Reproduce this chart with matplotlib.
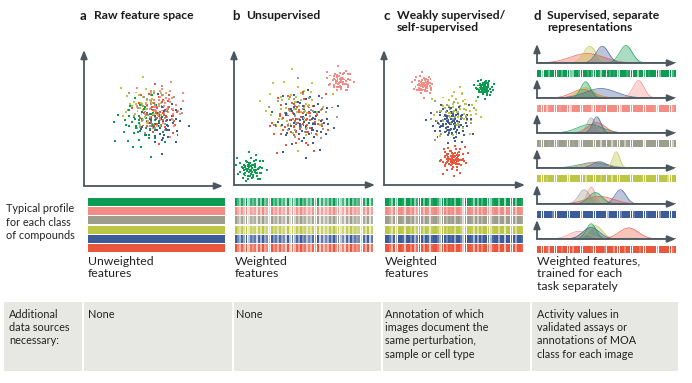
import numpy as np
import matplotlib
matplotlib.use("Agg")
from matplotlib import pyplot as plt
from matplotlib.patches import Rectangle

plt.rcParams['font.family'] = ['Lato', 'DejaVu Sans']

# ---- data ----
class_names = ["green", "pink", "gray", "yellow", "blue", "red"]
class_colors = ["#0b9c52", "#f28d86", "#9d9d8d", "#bdc545", "#3c5b99", "#e8563b"]

# scatter clusters: (class index, centre x, centre y, spread, n points), axes fraction
clusters_a = [(0, 0.42, 0.46, 0.09, 55), (1, 0.56, 0.58, 0.08, 55), (2, 0.50, 0.55, 0.08, 45),
              (3, 0.44, 0.58, 0.08, 50), (4, 0.55, 0.46, 0.08, 60), (5, 0.53, 0.53, 0.08, 50)]
clusters_b = [(0, 0.12, 0.12, 0.045, 70), (1, 0.75, 0.77, 0.040, 60), (2, 0.48, 0.52, 0.10, 40),
              (3, 0.44, 0.56, 0.11, 55), (4, 0.50, 0.48, 0.10, 80), (5, 0.46, 0.47, 0.10, 70)]
clusters_c = [(1, 0.28, 0.74, 0.035, 55), (0, 0.71, 0.72, 0.030, 60), (5, 0.49, 0.19, 0.045, 75),
              (2, 0.47, 0.50, 0.07, 30), (3, 0.52, 0.55, 0.08, 60), (4, 0.48, 0.46, 0.065, 90)]

# feature weights for the striped bars (digit 1-9 -> colour strength)
weights_b = "963849275718394629573846192738495726384917263849572618394756283917"
weights_c = "997394998299693799498289973996989499729998394969973899499299794998"
weights_d = ["9939959998969994399799979699839997989499978999399698999949999969",
             "8999489999899993999979999499989999999939999899999999998399999979",
             "9899989997999899899399999989939999389999489999999399999999999949",
             "9999799989999969999999499999979999499999999999998999999999995999",
             "9999999699999989999949999999999939999969999979999989999959999999",
             "9999839999979999599989999899999799959999699999979999999499999979"]

# density bumps in panel d: one list per row of (class, centre, sd, height)
bumps_d = [
    [(5, 0.36, 0.12, 0.50), (3, 0.38, 0.045, 0.88), (4, 0.47, 0.045, 0.88), (0, 0.64, 0.045, 0.92)],
    [(5, 0.33, 0.08, 0.45), (3, 0.35, 0.06, 0.55), (0, 0.35, 0.035, 0.85), (4, 0.46, 0.11, 0.50),
     (1, 0.73, 0.04, 0.92)],
    [(0, 0.38, 0.09, 0.45), (5, 0.43, 0.06, 0.55), (2, 0.39, 0.03, 0.80), (4, 0.43, 0.03, 0.85)],
    [(0, 0.40, 0.10, 0.28), (1, 0.42, 0.08, 0.32), (4, 0.45, 0.05, 0.33), (3, 0.57, 0.025, 0.85)],
    [(5, 0.45, 0.10, 0.40), (2, 0.34, 0.04, 0.75), (1, 0.39, 0.03, 0.88), (0, 0.42, 0.05, 0.60),
     (4, 0.60, 0.04, 0.75)],
    [(1, 0.30, 0.07, 0.40), (2, 0.38, 0.05, 0.60), (3, 0.42, 0.05, 0.70), (0, 0.39, 0.035, 0.80),
     (4, 0.39, 0.06, 0.60), (5, 0.66, 0.07, 0.58)],
]
stripe_class_d = [0, 1, 2, 3, 4, 5]

titles = [("a", "Raw feature space"), ("b", "Unsupervised"),
          ("c", "Weakly supervised/\nself-supervised"), ("d", "Supervised, separate\nrepresentations")]
under_labels = ["Unweighted\nfeatures", "Weighted\nfeatures", "Weighted\nfeatures",
                "Weighted features,\ntrained for each\ntask separately"]
side_label = "Typical profile\nfor each class\nof compounds"
table_texts = ["Additional\ndata sources\nnecessary:", "None", "None",
               "Annotation of which\nimages document the\nsame perturbation,\nsample or cell type",
               "Activity values in\nvalidated assays or\nannotations of MOA\nclass for each image"]

# ---- layout (pixels) ----
W, H = 692, 383
AXC = "#4b5660"
fig = plt.figure(figsize=(W / 100, H / 100), dpi=100)
bg = fig.add_axes([0, 0, 1, 1])
bg.set_xlim(0, W)
bg.set_ylim(H, 0)
bg.axis("off")


def px_axes(x0, y0, x1, y1):
    ax = fig.add_axes([x0 / W, 1 - y1 / H, (x1 - x0) / W, (y1 - y0) / H])
    ax.axis("off")
    return ax


def arrow_axes(ax):
    for tip in [(1, 0), (0, 1)]:
        ax.annotate("", xy=tip, xytext=(0, 0), xycoords="axes fraction",
                    arrowprops=dict(arrowstyle="-|>,head_length=0.5,head_width=0.2",
                                    color=AXC, lw=1.3, shrinkA=0, shrinkB=0))


def halton(i, base):
    f, r = 1.0, 0.0
    while i > 0:
        f /= base
        r += f * (i % base)
        i //= base
    return r


def cloud(cx, cy, s, n, start):
    idx = np.arange(start + 1, start + n + 1)
    u1 = np.array([halton(i, 2) for i in idx])
    u2 = np.array([halton(i, 3) for i in idx])
    r = np.sqrt(-2 * np.log(np.clip(u1, 0.02, 1)))
    return cx + s * r * np.cos(2 * np.pi * u2), cy + s * r * np.sin(2 * np.pi * u2)


def tint(col, weights):
    return [matplotlib.colors.to_rgba(col, 0.15 + 0.85 * int(c) / 9) for c in weights]


scatter_boxes = [(84, 50, 223, 186), (234, 50, 375, 185), (384, 50, 525, 185)]
for p, (box, clusters) in enumerate(zip(scatter_boxes, [clusters_a, clusters_b, clusters_c])):
    ax = px_axes(*box)
    ax.set_xlim(0, 1)
    ax.set_ylim(0, 1)
    # interleave classes so no colour sits fully on top
    pts = []
    for k, (ci, cx, cy, s, n) in enumerate(clusters):
        x, y = cloud(cx, cy, s, n, 17 * k + 40 * p + 3)
        for j in range(n):
            pts.append((j / n + 0.001 * k, x[j], y[j], class_colors[ci]))
    pts.sort()
    ax.scatter([q[1] for q in pts], [q[2] for q in pts], c=[q[3] for q in pts],
               s=2.0, marker="s", linewidths=0)
    arrow_axes(ax)

# striped profile bars for panels a-c
stripe_cols = [(88, 225), (235, 373), (385, 523)]
for p, (x0, x1) in enumerate(stripe_cols):
    ax = px_axes(x0, 198, x1, 252)
    ax.set_ylim(6 - 0.12, 0)
    for r, col in enumerate(class_colors):
        if p == 0:
            ax.set_xlim(0, 1)
            ax.bar(0.5, 0.88, bottom=r, width=1, color=col, linewidth=0)
        else:
            w = weights_b if p == 1 else weights_c
            ax.set_xlim(0, len(w))
            ax.bar(np.arange(len(w)) + 0.5, 0.88, bottom=r, width=0.93,
                   color=tint(col, w), linewidth=0)

# panel d rows
baselines = [63, 98, 133, 168, 204, 239]
xs = np.linspace(0, 1, 300)
for r, base in enumerate(baselines):
    ax = px_axes(537, base - 19, 676, base)
    ax.set_xlim(0, 1)
    ax.set_ylim(0, 1)
    for ci, c, sd, h in bumps_d[r]:
        yv = h * np.exp(-0.5 * ((xs - c) / sd) ** 2)
        ax.fill_between(xs, 0, yv, color=class_colors[ci], alpha=0.35, linewidth=0)
        ax.plot(xs, yv, color=class_colors[ci], lw=0.6, alpha=0.8)
    arrow_axes(ax)
    sax = px_axes(537, base + 7, 676, base + 14)
    w = weights_d[r]
    sax.set_xlim(0, len(w))
    sax.set_ylim(0, 1)
    sax.bar(np.arange(len(w)) + 0.5, 1, width=0.85,
            color=tint(class_colors[stripe_class_d[r]], w), linewidth=0)

# titles
title_x = [80, 232, 383, 533]
for (letter, txt), x in zip(titles, title_x):
    bg.text(x, 10, letter, fontsize=9.5, fontweight="bold", va="top", color="#1a1a1a")
    bg.text(x + 14, 10, txt, fontsize=8.7, fontweight="bold", va="top", linespacing=1.1,
            color="#1a1a1a")

bg.text(6, 203, side_label, fontsize=7.8, va="top", linespacing=1.3, color="#222222")
for x, txt in zip([88, 235, 385, 537], under_labels):
    bg.text(x, 256, txt, fontsize=8.8, va="top", linespacing=1.15, color="#222222")

# bottom table
bg.add_patch(Rectangle((4, 302), 674, 69, color="#e7e7e3", lw=0))
for x in [82, 232, 381, 530]:
    bg.add_patch(Rectangle((x, 302), 2, 69, color="white", lw=0))
for x, txt in zip([9, 88, 236, 385, 537], table_texts):
    bg.text(x, 309, txt, fontsize=7.8, va="top", linespacing=1.25, color="#222222")

fig.savefig("out.png", dpi=100)
